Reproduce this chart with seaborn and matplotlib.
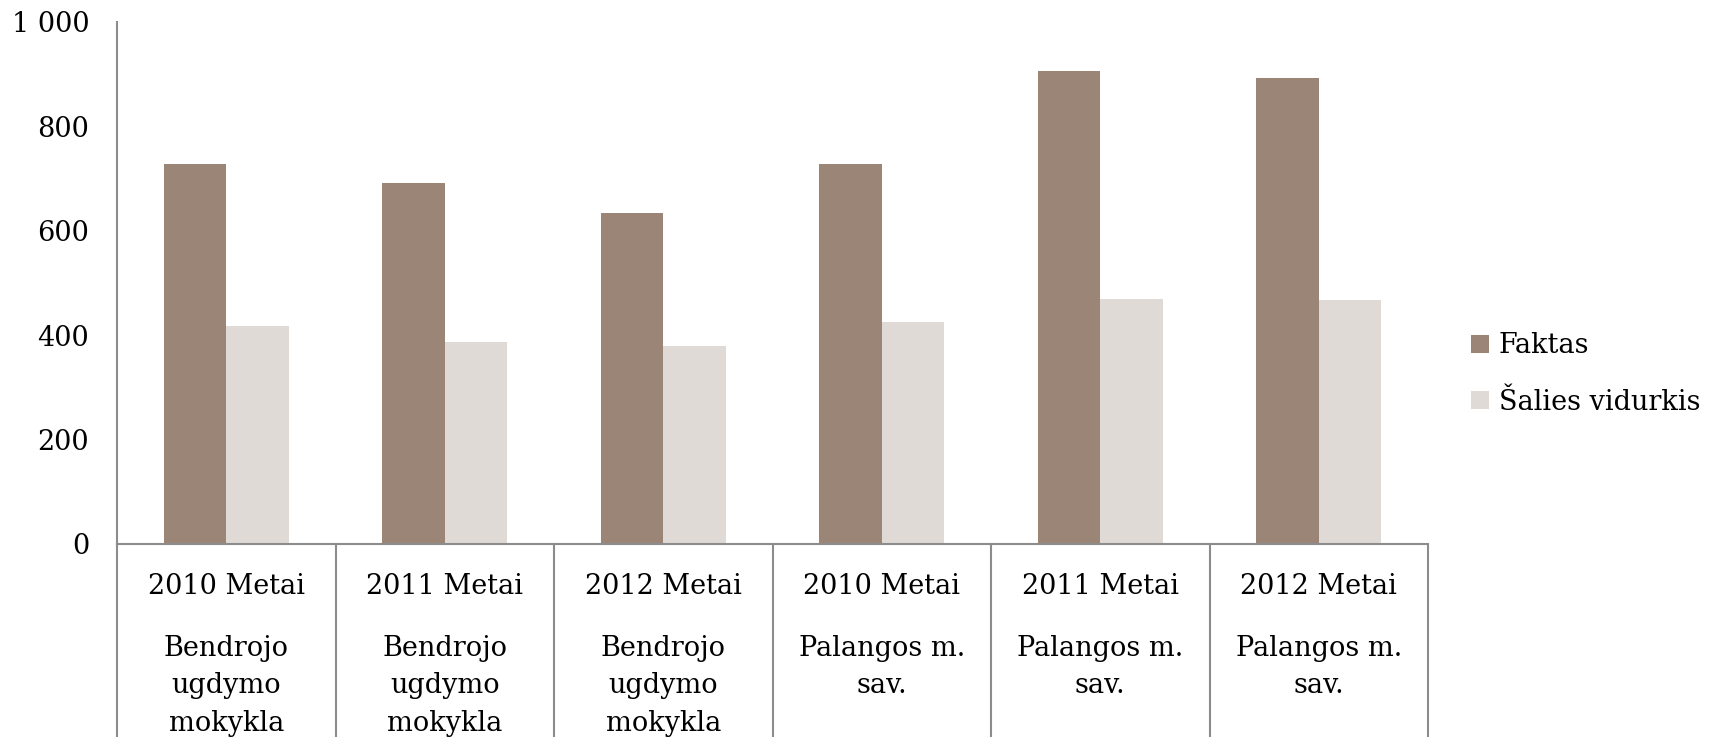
import pandas as pd
import seaborn as sns
import matplotlib.pyplot as plt
from matplotlib.ticker import FuncFormatter

# -------------------------------
# Data
# -------------------------------
years = ['2010 Metai', '2011 Metai', '2012 Metai',
         '2010 Metai', '2011 Metai', '2012 Metai']
places = ['Bendrojo\nugdymo\nmokykla'] * 3 + ['Palangos m.\nsav.'] * 3
faktas = [728, 691, 634, 728, 907, 893]
vidurkis = [418, 387, 380, 425, 470, 468]
series_names = ['Faktas', 'Šalies vidurkis']
colors = ['#9B8577', '#DFDAD6']

cats = [f'{y} | {p}' for y, p in zip(years, places)]
df = pd.DataFrame({
    'category': cats * 2,
    'series': [series_names[0]] * len(cats) + [series_names[1]] * len(cats),
    'value': faktas + vidurkis,
})

# -------------------------------
# Plot
# -------------------------------
sns.set_style('white')
plt.rcParams['font.family'] = ['DejaVu Serif']
plt.rcParams['text.color'] = 'black'
plt.rcParams['ytick.color'] = 'black'
FS = 19.5
LINE = '#8C8C8C'

W, H = 1713, 737
fig = plt.figure(figsize=(W / 100, H / 100), dpi=100)
left, right, top, bottom = 117, 1428, 22, 544
ax = fig.add_axes([left / W, 1 - bottom / H, (right - left) / W, (bottom - top) / H])

sns.barplot(data=df, x='category', y='value', hue='series', palette=colors,
            width=0.573, saturation=1, linewidth=0, ax=ax)

ax.set_xlim(-0.5, len(cats) - 0.5)
ax.set_ylim(0, 1000)
ax.set_yticks(range(0, 1001, 200))
ax.yaxis.set_major_formatter(FuncFormatter(lambda v, p: f'{int(v):,}'.replace(',', ' ')))
ax.tick_params(axis='y', length=0, pad=20, labelsize=FS)
ax.set_xticks([])
ax.set_xlabel('')
ax.set_ylabel('')

for side in ['top', 'right']:
    ax.spines[side].set_visible(False)
for side in ['left', 'bottom']:
    ax.spines[side].set_color(LINE)
    ax.spines[side].set_linewidth(1.5)

# category table below the axis
ybot = -(H - bottom) / (bottom - top)
xt = ax.get_xaxis_transform()
for i in range(len(cats) + 1):
    ax.plot([i - 0.5, i - 0.5], [0, ybot], transform=xt, color=LINE,
            lw=1.5, clip_on=False)
for i, (y, p) in enumerate(zip(years, places)):
    ax.text(i, -0.081, y, transform=xt, ha='center', va='center', fontsize=FS)
    ax.text(i, -0.174, p, transform=xt, ha='center', va='top', fontsize=FS,
            linespacing=1.5)

# legend
handles, labels = ax.get_legend_handles_labels()
ax.legend_.remove()
fig.legend(handles, labels, loc='center left',
           bbox_to_anchor=(1471 / W, 1 - 374 / H), frameon=False,
           fontsize=FS, handlelength=0.65, handleheight=0.65,
           handletextpad=0.38, labelspacing=1.1, borderpad=0, borderaxespad=0)

fig.savefig('out.png', dpi=100)
